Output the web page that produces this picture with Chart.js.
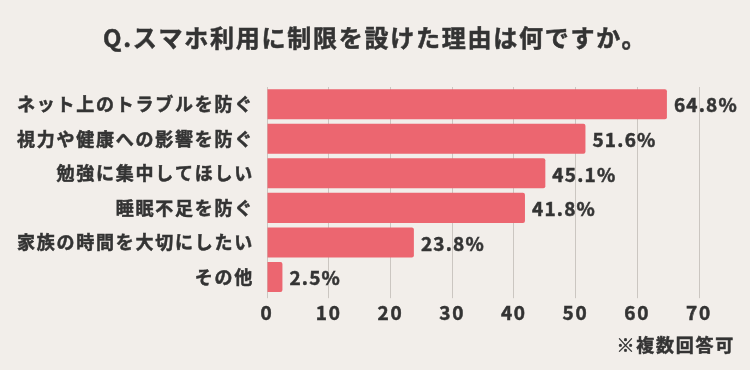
<!DOCTYPE html>
<html lang="ja">
<head>
<meta charset="utf-8">
<script src="https://cdn.jsdelivr.net/npm/chart.js@4"></script>
<style>
  html, body { margin: 0; padding: 0; background: #f2eeea; }
  #wrap { width: 750px; height: 370px; }
</style>
</head>
<body>
<div id="wrap"><canvas id="idCanv_reason" width="750" height="370"></canvas></div>
<script>
const reasonLabels = ["ネット上のトラブルを防ぐ", "視力や健康への影響を防ぐ", "勉強に集中してほしい", "睡眠不足を防ぐ", "家族の時間を大切にしたい", "その他"];
const reasonValues = [64.8, 51.6, 45.1, 41.8, 23.8, 2.5];
const titleText = "Q.スマホ利用に制限を設けた理由は何ですか。";
const noteText = "※複数回答可";

const fontFamily = "'Noto Sans CJK JP', 'Noto Sans', sans-serif";
const textColor = "#333333";
const spacing = "1.75px";
const strokeW = 0.5;

// canvas letter spacing is reset whenever the canvas resizes, so set it before layout and draw
const spacingPlugin = {
  id: "spacing",
  beforeUpdate(chart) {
    chart.ctx.letterSpacing = spacing;
  },
  beforeDraw(chart) {
    chart.ctx.letterSpacing = spacing;
  },
};

function boldText(ctx, text, x, y) {
  ctx.lineWidth = strokeW;
  ctx.strokeStyle = textColor;
  ctx.strokeText(text, x, y);
  ctx.fillText(text, x, y);
}

const textPlugin = {
  id: "headNote",
  afterDraw(chart) {
    const ctx = chart.ctx;
    ctx.save();
    ctx.letterSpacing = spacing;
    ctx.fillStyle = textColor;
    ctx.textBaseline = "middle";
    ctx.font = `bold 24px ${fontFamily}`;
    ctx.textAlign = "left";
    boldText(ctx, titleText, 103, 38);
    ctx.font = `bold 18px ${fontFamily}`;
    ctx.textAlign = "right";
    boldText(ctx, noteText, 735, 345);
    ctx.restore();
  },
};

const valueLabelPlugin = {
  id: "valueLabel",
  afterDatasetsDraw(chart) {
    const ctx = chart.ctx;
    const meta = chart.getDatasetMeta(0);
    ctx.save();
    ctx.letterSpacing = "1.2px";
    ctx.font = `bold 19px ${fontFamily}`;
    ctx.fillStyle = textColor;
    ctx.textAlign = "left";
    ctx.textBaseline = "middle";
    meta.data.forEach((bar, i) => {
      boldText(ctx, `${reasonValues[i]}%`, bar.x + 7, bar.y + 1);
    });
    ctx.restore();
  },
};

const reasonChart = new Chart(document.getElementById("idCanv_reason"), {
  type: "bar",
  data: {
    labels: reasonLabels,
    datasets: [
      {
        data: reasonValues,
        backgroundColor: "#ec6670",
        borderRadius: 2,
        borderSkipped: "start",
        barPercentage: 0.87,
        categoryPercentage: 1,
      },
    ],
  },
  options: {
    indexAxis: "y",
    responsive: false,
    animation: false,
    devicePixelRatio: 1,
    layout: {
      padding: { left: 0, right: 51, top: 87, bottom: 43 },
    },
    plugins: {
      legend: { display: false },
      tooltip: { enabled: false },
    },
    scales: {
      x: {
        min: 0,
        max: 70,
        ticks: {
          stepSize: 10,
          color: textColor,
          padding: 3,
          textStrokeColor: textColor,
          textStrokeWidth: strokeW,
          font: { family: fontFamily, size: 19, weight: "bold", lineHeight: 1.2 },
        },
        grid: {
          color: "#cbc6c1",
          tickLength: 4,
        },
        border: { display: false },
      },
      y: {
        grid: { display: false, drawTicks: false },
        border: { display: false },
        ticks: {
          color: textColor,
          padding: 13,
          textStrokeColor: textColor,
          textStrokeWidth: strokeW,
          font: { family: fontFamily, size: 18, weight: "bold" },
        },
        afterFit(scale) {
          scale.width = 267;
        },
      },
    },
  },
  plugins: [spacingPlugin, valueLabelPlugin, textPlugin],
});
</script>
</body>
</html>
